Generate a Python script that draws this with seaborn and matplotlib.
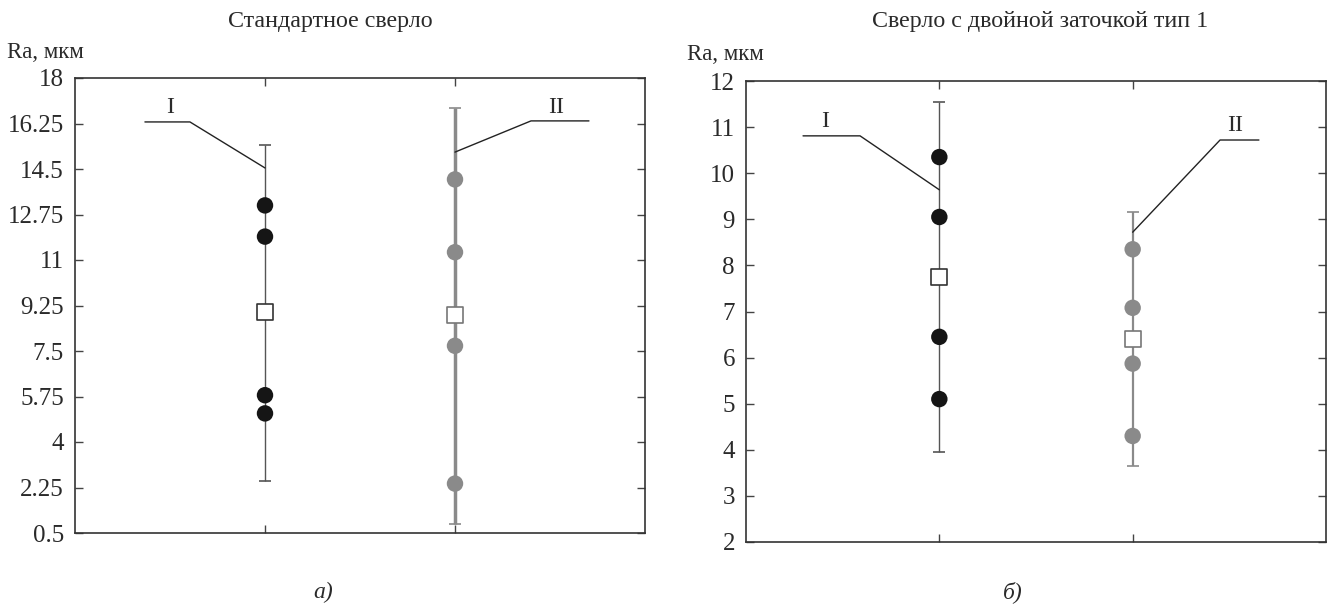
import numpy as np
import pandas as pd
import matplotlib
matplotlib.use("Agg")
import matplotlib.pyplot as plt
import seaborn as sns

# данные: Ra, мкм
titles = ["Стандартное сверло", "Сверло с двойной заточкой тип 1"]
captions = ["а)", "б)"]
groups = ["I", "II"]

std_I = [13.1, 11.9, 5.8, 5.1]
std_II = [14.1, 11.3, 7.7, 2.4]
std_mean = [9.0, 8.9]
std_low = [2.5, 0.85]
std_high = [15.42, 16.85]

dbl_I = [10.35, 9.05, 6.45, 5.1]
dbl_II = [8.35, 7.08, 5.87, 4.3]
dbl_mean = [7.75, 6.4]
dbl_low = [3.95, 3.65]
dbl_high = [11.55, 9.15]

std_ticks = [0.5, 2.25, 4, 5.75, 7.5, 9.25, 11, 12.75, 14.5, 16.25, 18]
dbl_ticks = [2, 3, 4, 5, 6, 7, 8, 9, 10, 11, 12]

sns.set_style("white")
plt.rcParams["font.family"] = ["Liberation Serif", "DejaVu Serif"]

W, H = 1329, 608
fig = plt.figure(figsize=(W / 100, H / 100), dpi=100)
ax1 = fig.add_axes([75 / W, 1 - 533 / H, 570 / W, 455 / H])
ax2 = fig.add_axes([746 / W, 1 - 542 / H, 580 / W, 461 / H])

colors = {"I": "#151515", "II": "#8a8a8a"}
bar_colors = {"I": "#555555", "II": "#8a8a8a"}
txt = "#2a2a2a"


def panel(ax, vals_I, vals_II, means, lows, highs, ticks, err_lw):
    df = pd.DataFrame({
        "x": [1] * len(vals_I) + [2] * len(vals_II),
        "Ra": vals_I + vals_II,
        "grp": ["I"] * len(vals_I) + ["II"] * len(vals_II),
    })
    for i, g in enumerate(groups):
        m = means[i]
        ax.errorbar([i + 1], [m], yerr=[[m - lows[i]], [highs[i] - m]], fmt="none",
                    ecolor=bar_colors[g], elinewidth=err_lw[i], capsize=4, capthick=1.2,
                    zorder=1)
    sns.scatterplot(data=df, x="x", y="Ra", hue="grp", palette=colors, s=140,
                    edgecolor="none", legend=False, ax=ax, zorder=3)
    mdf = pd.DataFrame({"x": [1, 2], "Ra": means})
    sns.scatterplot(data=mdf, x="x", y="Ra", marker="s", s=135, facecolor="white",
                    edgecolor=["#333333", "#777777"], linewidth=1.2, legend=False,
                    ax=ax, zorder=4)
    ax.set_xlim(0, 3)
    ax.set_ylim(ticks[0], ticks[-1])
    ax.set_yticks(ticks)
    ax.set_yticklabels([f"{t:g}" for t in ticks])
    ax.set_xticks([1, 2])
    ax.set_xticklabels([])
    ax.set_xlabel("")
    ax.set_ylabel("")
    ax.tick_params(direction="in", length=6, width=1, color="#444444", labelcolor=txt,
                   top=True, right=True, left=True, bottom=True, labelsize=18, pad=8)
    for sp in ax.spines.values():
        sp.set_color("#333333")
        sp.set_linewidth(1.2)


panel(ax1, std_I, std_II, std_mean, std_low, std_high, std_ticks, [1.0, 2.5])
panel(ax2, dbl_I, dbl_II, dbl_mean, dbl_low, dbl_high, dbl_ticks, [1.0, 1.6])

# заголовки, подписи осей и панелей
fig.text(330 / W, 1 - 22 / H, titles[0], fontsize=17.3, ha="center", va="center", color=txt)
fig.text(1040 / W, 1 - 22 / H, titles[1], fontsize=17.3, ha="center", va="center", color=txt)
fig.text(7 / W, 1 - 53 / H, "Ra, мкм", fontsize=16.5, ha="left", va="center", color=txt)
fig.text(687 / W, 1 - 54 / H, "Ra, мкм", fontsize=16.5, ha="left", va="center", color=txt)
fig.text(323 / W, 1 - 592 / H, captions[0], fontsize=17, style="italic",
         ha="center", va="center", color=txt)
fig.text(1013 / W, 1 - 592 / H, captions[1], fontsize=17, style="italic",
         ha="center", va="center", color=txt)

# выноски I и II
lk = dict(color="#222222", lw=1.0, zorder=2)
ax1.plot([0.368, 0.605, 1.0], [16.31, 16.31, 14.54], **lk)
ax1.text(0.5, 16.45, "I", fontsize=17, ha="center", va="bottom", color=txt)
ax1.plot([2.0, 2.4, 2.705], [15.15, 16.35, 16.35], **lk)
ax1.text(2.53, 16.45, "II", fontsize=17, ha="center", va="bottom", color=txt)

ax2.plot([0.295, 0.59, 1.0], [10.81, 10.81, 9.64], **lk)
ax2.text(0.41, 10.9, "I", fontsize=17, ha="center", va="bottom", color=txt)
ax2.plot([2.0, 2.452, 2.653], [8.72, 10.72, 10.72], **lk)
ax2.text(2.53, 10.8, "II", fontsize=17, ha="center", va="bottom", color=txt)

fig.savefig("out.png", dpi=100)
